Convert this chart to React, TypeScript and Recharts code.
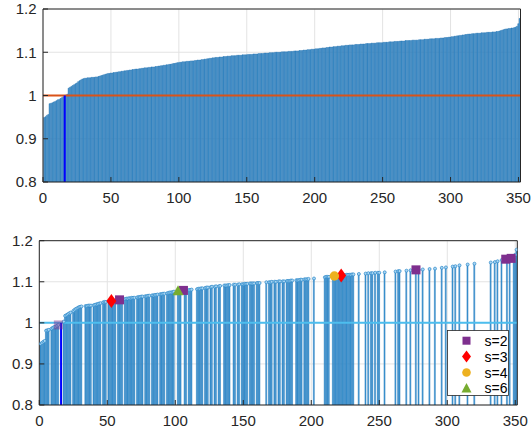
import React from 'react';
import { ComposedChart, Bar, Scatter, XAxis, YAxis, CartesianGrid, ReferenceLine, Legend } from 'recharts';

// sorted ratio per sample (x = 1..351)
const values = [
  0.949, 0.951, 0.954, 0.956, 0.981, 0.982, 0.983, 0.985, 0.986, 0.988,
  0.990, 0.991, 0.993, 0.995, 0.997, 0.999, 1.001, 1.003, 1.017, 1.019,
  1.021, 1.023, 1.025, 1.027, 1.029, 1.032, 1.034, 1.036, 1.038, 1.039,
  1.040, 1.040, 1.041, 1.041, 1.041, 1.042, 1.042, 1.042, 1.043, 1.043,
  1.044, 1.045, 1.046, 1.047, 1.048, 1.049, 1.050, 1.051, 1.051, 1.052,
  1.052, 1.053, 1.053, 1.054, 1.054, 1.055, 1.055, 1.056, 1.056, 1.057,
  1.057, 1.058, 1.058, 1.059, 1.059, 1.060, 1.060, 1.061, 1.061, 1.061,
  1.062, 1.062, 1.063, 1.063, 1.064, 1.064, 1.064, 1.065, 1.065, 1.066,
  1.066, 1.066, 1.067, 1.067, 1.068, 1.068, 1.069, 1.069, 1.070, 1.070,
  1.071, 1.071, 1.072, 1.072, 1.073, 1.074, 1.074, 1.075, 1.076, 1.076,
  1.077, 1.077, 1.078, 1.078, 1.078, 1.079, 1.079, 1.079, 1.080, 1.080,
  1.080, 1.081, 1.081, 1.082, 1.082, 1.082, 1.083, 1.083, 1.084, 1.084,
  1.085, 1.085, 1.086, 1.086, 1.087, 1.087, 1.088, 1.088, 1.088, 1.089,
  1.089, 1.089, 1.090, 1.090, 1.090, 1.091, 1.091, 1.091, 1.092, 1.092,
  1.092, 1.092, 1.093, 1.093, 1.093, 1.093, 1.094, 1.094, 1.094, 1.094,
  1.095, 1.095, 1.095, 1.095, 1.096, 1.096, 1.096, 1.096, 1.097, 1.097,
  1.097, 1.097, 1.098, 1.098, 1.098, 1.098, 1.099, 1.099, 1.099, 1.099,
  1.100, 1.100, 1.100, 1.100, 1.100, 1.101, 1.101, 1.101, 1.101, 1.101,
  1.102, 1.102, 1.102, 1.102, 1.103, 1.103, 1.103, 1.103, 1.104, 1.104,
  1.104, 1.105, 1.105, 1.105, 1.106, 1.106, 1.106, 1.107, 1.107, 1.107,
  1.108, 1.108, 1.108, 1.109, 1.109, 1.110, 1.110, 1.110, 1.111, 1.111,
  1.112, 1.112, 1.112, 1.113, 1.113, 1.113, 1.114, 1.114, 1.114, 1.115,
  1.115, 1.115, 1.116, 1.116, 1.116, 1.117, 1.117, 1.117, 1.117, 1.118,
  1.118, 1.118, 1.118, 1.119, 1.119, 1.119, 1.119, 1.120, 1.120, 1.120,
  1.120, 1.121, 1.121, 1.121, 1.121, 1.122, 1.122, 1.122, 1.122, 1.122,
  1.123, 1.123, 1.123, 1.123, 1.124, 1.124, 1.124, 1.124, 1.125, 1.125,
  1.125, 1.125, 1.126, 1.126, 1.126, 1.126, 1.127, 1.127, 1.127, 1.127,
  1.127, 1.128, 1.128, 1.128, 1.128, 1.128, 1.129, 1.129, 1.129, 1.129,
  1.130, 1.130, 1.130, 1.130, 1.131, 1.131, 1.131, 1.131, 1.132, 1.132,
  1.132, 1.132, 1.133, 1.133, 1.133, 1.134, 1.134, 1.134, 1.135, 1.135,
  1.136, 1.136, 1.137, 1.137, 1.138, 1.138, 1.139, 1.139, 1.140, 1.140,
  1.141, 1.141, 1.142, 1.142, 1.142, 1.143, 1.143, 1.143, 1.144, 1.144,
  1.144, 1.144, 1.145, 1.145, 1.145, 1.145, 1.146, 1.146, 1.146, 1.146,
  1.147, 1.147, 1.147, 1.148, 1.148, 1.149, 1.150, 1.151, 1.152, 1.153,
  1.154, 1.154, 1.155, 1.155, 1.156, 1.156, 1.157, 1.158, 1.160, 1.166,
  1.178,
];

// samples kept in the lower plot
const shownIdx = [
  1, 2, 3, 4, 5, 6, 7, 9, 10, 11, 12, 13, 14, 18, 19, 20, 21, 22, 23,
  25, 26, 27, 28, 29, 30, 31, 34, 35, 36, 37, 38, 40, 41, 42, 43, 44, 45,
  47, 48, 49, 51, 52, 53, 54, 55, 56, 58, 59, 60, 61, 63, 64, 65, 66,
  67, 68, 69, 70, 72, 73, 74, 75, 76, 78, 79, 80, 81, 83, 84, 85, 86, 87,
  89, 90, 91, 92, 94, 95, 96, 97, 98, 99, 102, 103, 104, 107, 108,
  110, 111, 112, 116, 117, 118, 119, 120, 122, 123, 124, 126, 127, 129, 130,
  132, 133, 136, 137, 138, 139, 140, 143, 144, 146, 147, 149, 150, 151,
  152, 153, 155, 156, 157, 158, 160, 161, 162, 167, 169, 170, 171, 173, 174,
  176, 177, 179, 180, 182, 183, 184, 185, 186, 189, 190, 191, 192, 193,
  195, 196, 197, 198, 202, 210, 211, 212, 213, 216, 217, 218, 219, 220,
  221, 222, 223, 224, 225, 226, 227, 228, 229, 230, 231, 235, 240, 242,
  244, 245, 247, 249, 250, 254, 262, 264, 265, 270, 273, 277, 279, 282,
  287, 291, 296, 299, 304, 306, 309, 315, 320, 332, 335, 337, 340, 344,
  346, 349, 350, 351,
];

const xTicks = [0, 50, 100, 150, 200, 250, 300, 350];
const yTicks = [0.8, 0.9, 1, 1.1, 1.2];
const thresholdIdx = 16;

const s2Idx = [14, 59, 106, 277, 343, 347];
const s3Idx = [53, 222];
const s4Idx = [217];
const s6Idx = [102];

const AX = '#262626';
const FONT = "'Liberation Sans', Arial, Helvetica, sans-serif";
const GRID = '#e3e3e3';

const topData = values.map((v, i) => ({ x: i + 1, v }));
const shownSet = new Set(shownIdx);
const bottomData = values.map((v, i) => ({ x: i + 1, s: shownSet.has(i + 1) ? v : null }));
const stemTops = shownIdx.map((i) => ({ x: i, y: values[i - 1] }));
const pts = (idx: number[]) => idx.map((i) => ({ x: i, y: values[i - 1] }));

const fade = (p: any) => (p.payload && p.payload.y <= 1 ? 0.45 : 1);

const squareShape = (p: any) => (
  <rect x={p.cx - 4.5} y={p.cy - 4.5} width={9} height={9} fill="#7E2F8E" fillOpacity={fade(p)} />
);
const diamondShape = (p: any) => (
  <path d={`M${p.cx},${p.cy - 7} L${p.cx + 5},${p.cy} L${p.cx},${p.cy + 7} L${p.cx - 5},${p.cy} Z`} fill="#FF0000" />
);
const circleShape = (p: any) => <circle cx={p.cx} cy={p.cy} r={4.7} fill="#EDB120" />;
const triangleShape = (p: any) => (
  <path d={`M${p.cx},${p.cy - 6} L${p.cx + 5.5},${p.cy + 4} L${p.cx - 5.5},${p.cy + 4} Z`} fill="#77AC30" />
);
const dotShape = (p: any) => (
  <circle cx={p.cx} cy={p.cy} r={1.5} fill="#a9d6f3" stroke="#2a86c8" strokeWidth={0.7} />
);

const legendRows = [
  { name: 's=2', mark: (x: number, y: number) => <rect x={x - 4} y={y - 4} width={8} height={8} fill="#7E2F8E" /> },
  { name: 's=3', mark: (x: number, y: number) => <path d={`M${x},${y - 6} L${x + 4.5},${y} L${x},${y + 6} L${x - 4.5},${y} Z`} fill="#FF0000" /> },
  { name: 's=4', mark: (x: number, y: number) => <circle cx={x} cy={y} r={4.3} fill="#EDB120" /> },
  { name: 's=6', mark: (x: number, y: number) => <path d={`M${x},${y - 5.5} L${x + 5},${y + 4} L${x - 5},${y + 4} Z`} fill="#77AC30" /> },
];

const LegendBox = () => (
  <svg width={62} height={66} style={{ display: 'block' }}>
    <rect x={0.5} y={0.5} width={61} height={65} fill="#fff" stroke={AX} strokeWidth={0.8} />
    {legendRows.map((r, i) => (
      <g key={r.name}>
        {r.mark(19.5, 10.7 + i * 15.9)}
        <text x={37.5} y={10.7 + i * 15.9} dy="0.36em" fontSize={14} fontFamily={FONT} fill="#000">
          {r.name}
        </text>
      </g>
    ))}
  </svg>
);

const tickStyle = { fill: AX, fontSize: 15, fontFamily: FONT };

const axes = (h: number) => [
  <CartesianGrid key="g" stroke={GRID} strokeWidth={1} />,
  <XAxis key="xb" type="number" dataKey="x" domain={[0, 351.5]} ticks={xTicks} allowDataOverflow interval={0}
    height={h} tickSize={-5} tickMargin={15} axisLine={{ stroke: AX }} tickLine={{ stroke: AX }} tick={tickStyle} />,
  <XAxis key="xt" xAxisId="top" orientation="top" type="number" dataKey="x" domain={[0, 351.5]} ticks={xTicks}
    allowDataOverflow interval={0} height={1} tickSize={-5} axisLine={{ stroke: AX }} tickLine={{ stroke: AX }} tick={false} />,
  <YAxis key="yl" type="number" domain={[0.8, 1.2]} ticks={yTicks} allowDataOverflow interval={0} width={40}
    tickSize={-5} tickMargin={11.5} axisLine={{ stroke: AX }} tickLine={{ stroke: AX }} tick={tickStyle}
    tickFormatter={(v: number) => String(v)} />,
  <YAxis key="yr" yAxisId="r" orientation="right" type="number" domain={[0.8, 1.2]} ticks={yTicks} allowDataOverflow
    interval={0} width={1} tickSize={-5} axisLine={{ stroke: AX }} tickLine={{ stroke: AX }} tick={false} />,
];

export default function App() {
  return (
    <div style={{ position: 'absolute', left: 0, top: 0, width: 531, height: 434, background: '#fff' }}>
      <div style={{ position: 'absolute', left: 0, top: 0 }}>
        <ComposedChart width={531} height={217} data={topData} barCategoryGap={0} barGap={0}
          margin={{ top: 8, right: 9.5, left: 3, bottom: 10 }}>
          {axes(25)}
          <Bar dataKey="v" fill="#4a9ad3" stroke="#1f6fae" strokeWidth={0.5} isAnimationActive={false} />
          <ReferenceLine y={1} stroke="#D95319" strokeWidth={2} />
          <ReferenceLine segment={[{ x: thresholdIdx, y: 0.8 }, { x: thresholdIdx, y: 1 }]} stroke="#0000FF" strokeWidth={2} />
        </ComposedChart>
      </div>
      <div style={{ position: 'absolute', left: 0, top: 217 }}>
        <ComposedChart width={531} height={217} data={bottomData} barCategoryGap={0} barGap={0}
          margin={{ top: 22.7, right: 12.7, left: -0.7, bottom: 4 }}>
          {axes(25)}
          <Bar dataKey="s" fill="#4aa0da" stroke="#1c74b8" strokeWidth={0.5} isAnimationActive={false} />
          <Scatter data={stemTops} dataKey="y" shape={dotShape} isAnimationActive={false} legendType="none" />
          <Scatter name="s=2" data={pts(s2Idx)} dataKey="y" shape={squareShape} isAnimationActive={false} />
          <ReferenceLine y={1} stroke="#4DBEEE" strokeWidth={2} />
          <ReferenceLine segment={[{ x: thresholdIdx, y: 0.8 }, { x: thresholdIdx, y: 1 }]} stroke="#0000FF" strokeWidth={2} />
          <Scatter name="s=3" data={pts(s3Idx)} dataKey="y" shape={diamondShape} isAnimationActive={false} />
          <Scatter name="s=4" data={pts(s4Idx)} dataKey="y" shape={circleShape} isAnimationActive={false} />
          <Scatter name="s=6" data={pts(s6Idx)} dataKey="y" shape={triangleShape} isAnimationActive={false} />
          <Legend layout="vertical" align="center" verticalAlign="middle" content={() => <LegendBox />}
            wrapperStyle={{ position: 'absolute', left: 447, top: 113, width: 62, height: 66 }} />
        </ComposedChart>
      </div>
    </div>
  );
}
